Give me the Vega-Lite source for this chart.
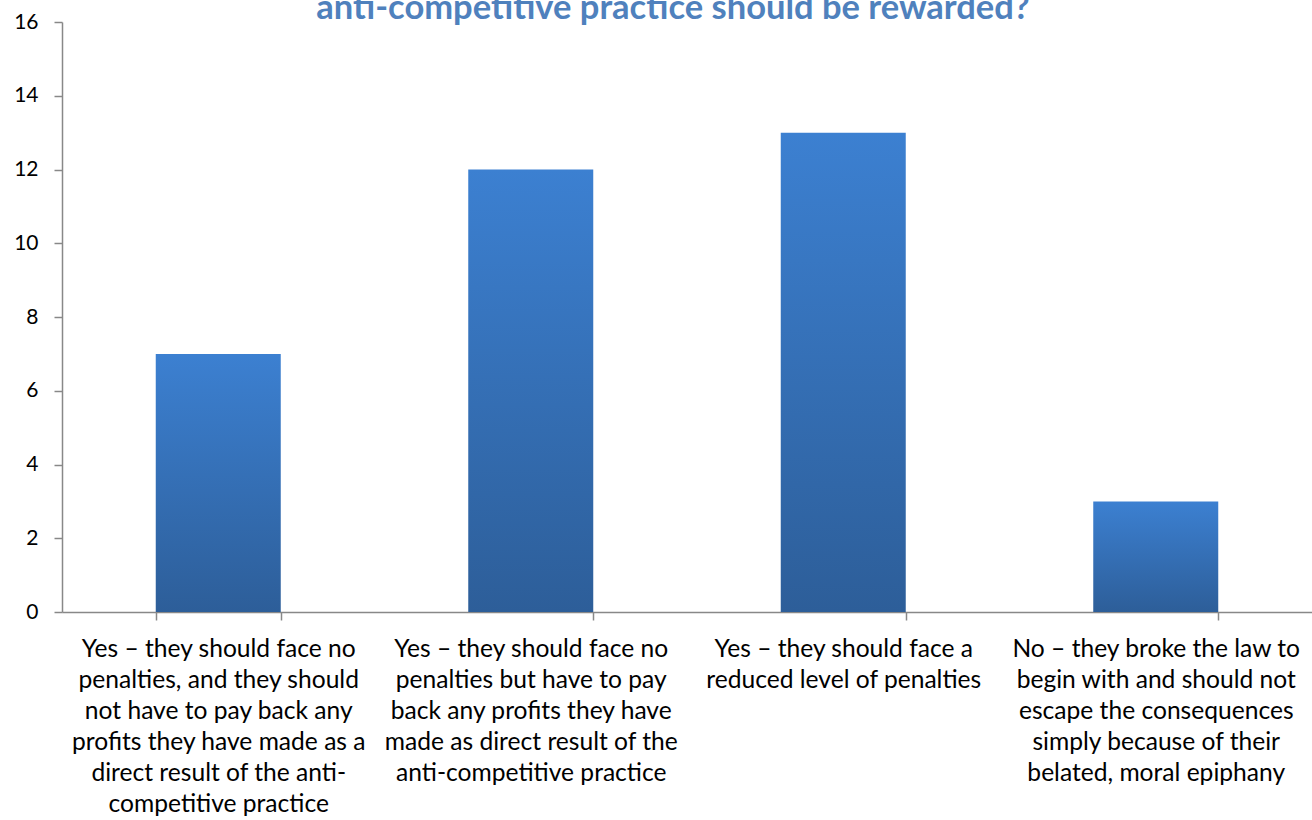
{
  "$schema": "https://vega.github.io/schema/vega-lite/v6.json",
  "width": 1250,
  "height": 590,
  "autosize": {"type": "none"},
  "padding": {"left": 62, "top": 22, "right": 0, "bottom": 208},
  "background": "white",
  "title": {
    "text": "anti-competitive practice should be rewarded?",
    "font": "Lato",
    "fontSize": 34.5,
    "fontWeight": "bold",
    "color": "#4F81BD",
    "anchor": "middle",
    "offset": 2,
    "dy": 17,
    "dx": -14
  },
  "data": {
    "values": [
      {"answer": "Yes – they should face no|penalties, and they should|not have to pay back any|profits they have made as a|direct result of the anti-|competitive practice", "count": 7},
      {"answer": "Yes – they should face no|penalties but have to pay|back any profits they have|made as direct result of the|anti-competitive practice", "count": 12},
      {"answer": "Yes – they should face a|reduced level of penalties", "count": 13},
      {"answer": "No – they broke the law to|begin with and should not|escape the consequences|simply because of their|belated, moral epiphany", "count": 3}
    ]
  },
  "mark": {
    "type": "bar",
    "color": {
      "gradient": "linear",
      "x1": 0, "y1": 0, "x2": 0, "y2": 1,
      "stops": [
        {"offset": 0, "color": "#3C80D1"},
        {"offset": 1, "color": "#2D5E99"}
      ]
    }
  },
  "encoding": {
    "x": {
      "field": "answer",
      "type": "nominal",
      "sort": null,
      "scale": {"paddingInner": 0.6, "paddingOuter": 0.3},
      "axis": {
        "title": null,
        "labelAngle": 0,
        "labelExpr": "split(datum.label, '|')",
        "labelFont": "Lato",
        "labelFontSize": 24.6,
        "labelColor": "#000000",
        "labelLineHeight": 31,
        "labelLimit": 0,
        "labelPadding": 17,
        "labelBaseline": "top",
        "tickBand": "extent",
        "tickSize": 8,
        "tickColor": "#888888",
        "domainColor": "#888888",
        "domainWidth": 1.5,
        "tickWidth": 1.5,
        "grid": false
      }
    },
    "y": {
      "field": "count",
      "type": "quantitative",
      "scale": {"domain": [0, 16], "nice": false},
      "axis": {
        "title": null,
        "values": [0, 2, 4, 6, 8, 10, 12, 14, 16],
        "labelFont": "Lato",
        "labelFontSize": 21,
        "labelColor": "#000000",
        "labelPadding": 16,
        "tickSize": 8,
        "tickColor": "#888888",
        "domainColor": "#888888",
        "domainWidth": 1.5,
        "tickWidth": 1.5,
        "grid": false
      }
    }
  },
  "config": {"view": {"stroke": null}}
}
